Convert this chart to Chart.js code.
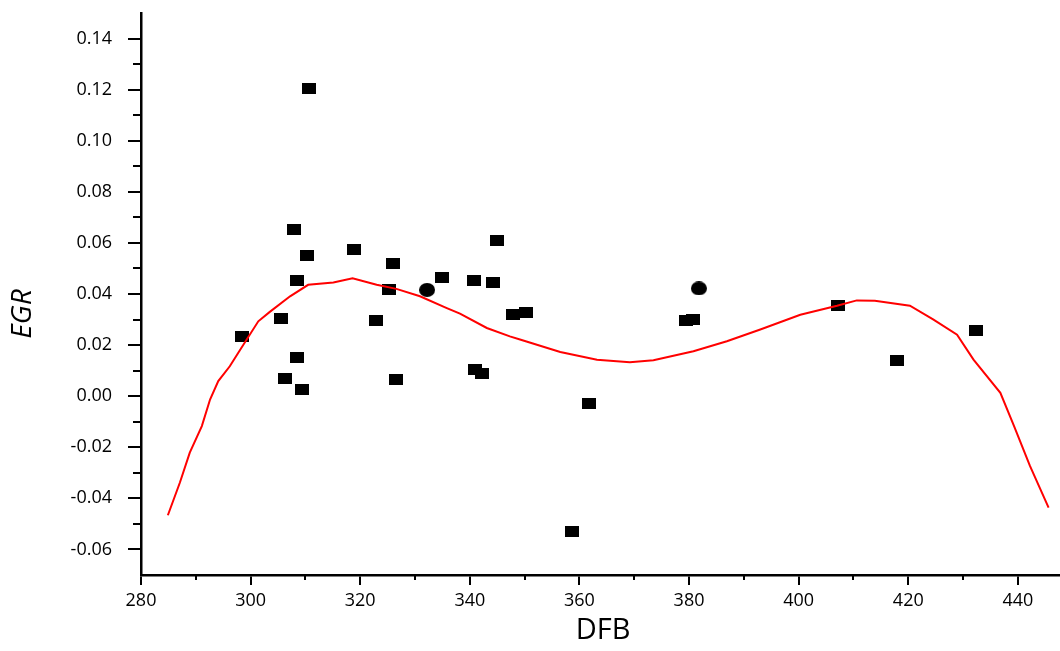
<!DOCTYPE html>
<html>
<head>
<meta charset="utf-8">
<script src="https://cdn.jsdelivr.net/npm/chart.js@4.4.1/dist/chart.umd.min.js"></script>
<style>
  html, body { margin: 0; padding: 0; background: #fff; }
  canvas { display: block; }
</style>
</head>
<body>
<canvas id="chart" width="1060" height="651"></canvas>
<script>
// measured points
const dfb = [310.7, 308.0, 310.2, 308.5, 305.6, 298.5, 308.5, 306.2, 309.4, 318.8,
  326.0, 345.0, 334.9, 340.7, 344.2, 325.2, 332.2, 347.9, 350.2, 322.9,
  326.5, 341.0, 342.2, 361.8, 358.7, 381.8, 379.5, 380.8, 407.1, 418.0, 432.3];
const egr = [0.1203, 0.0651, 0.0550, 0.0453, 0.0303, 0.0235, 0.0151, 0.0069, 0.0028, 0.0576,
  0.0518, 0.0611, 0.0464, 0.0454, 0.0445, 0.0417, 0.0416, 0.0319, 0.0329, 0.0298,
  0.0065, 0.0106, 0.0089, -0.0029, -0.0529, 0.0422, 0.0295, 0.0300, 0.0356, 0.0140, 0.0257];

// fitted curve
const fitDfb = [284.9, 287.1, 288.9, 291.1, 292.6, 294.1, 296.2, 298.1, 301.4, 303.5,
  307.2, 310.5, 315.1, 318.6, 323.0, 326.6, 330.9, 335.8, 338.2, 343.1,
  347.3, 349.3, 356.5, 363.2, 369.2, 373.5, 380.8, 386.9, 393.0, 400.3,
  407.0, 410.6, 413.9, 420.3, 424.6, 428.9, 431.9, 436.8, 439.3, 442.2, 445.6];
const fitEgr = [-0.0466, -0.0338, -0.0221, -0.0117, -0.0013, 0.0059, 0.0117, 0.0182, 0.0293, 0.0330,
  0.0391, 0.0436, 0.0445, 0.0462, 0.0436, 0.0420, 0.0391, 0.0345, 0.0323, 0.0267,
  0.0234, 0.0221, 0.0173, 0.0143, 0.0133, 0.0141, 0.0176, 0.0215, 0.0261, 0.0319,
  0.0354, 0.0375, 0.0374, 0.0354, 0.0300, 0.0241, 0.0143, 0.0013, -0.0117, -0.0273, -0.0436];

const xTicks = [280, 300, 320, 340, 360, 380, 400, 420, 440];
const yTicks = [-0.06, -0.04, -0.02, 0.00, 0.02, 0.04, 0.06, 0.08, 0.10, 0.12, 0.14];
const xMinor = [290, 310, 330, 350, 370, 390, 410, 430];
const yMinor = [-0.05, -0.03, -0.01, 0.01, 0.03, 0.05, 0.07, 0.09, 0.11, 0.13];

const roundIdx = [16, 25];

function makeMarker(w, h, round) {
  const c = document.createElement("canvas");
  c.width = w;
  c.height = h;
  const g = c.getContext("2d");
  g.fillStyle = "#000";
  if (round) {
    g.beginPath();
    g.ellipse(w / 2, h / 2, w / 2, h / 2, 0, 0, Math.PI * 2);
    g.fill();
  } else {
    g.fillRect(0, 0, w, h);
  }
  return c;
}
const rectMark = makeMarker(14, 11, false);
const roundMark = makeMarker(16, 14, true);

const FONT = '"Open Sans", "DejaVu Sans", sans-serif';

// minor ticks + axis titles
const decor = {
  id: "decor",
  afterDraw(chart) {
    const { ctx, chartArea: a, scales } = chart;
    ctx.save();
    ctx.strokeStyle = "#000";
    ctx.lineWidth = 2;
    ctx.beginPath();
    xMinor.forEach((v) => {
      const px = Math.round(scales.x.getPixelForValue(v));
      ctx.moveTo(px, a.bottom);
      ctx.lineTo(px, a.bottom + 5);
    });
    yMinor.forEach((v) => {
      const py = Math.round(scales.y.getPixelForValue(v));
      ctx.moveTo(a.left - 8, py);
      ctx.lineTo(a.left, py);
    });
    ctx.stroke();

    ctx.fillStyle = "#000";
    ctx.textAlign = "center";
    ctx.textBaseline = "middle";
    ctx.font = "29px " + FONT;
    ctx.fillText("DFB", 603, 631);
    ctx.translate(23, 314);
    ctx.rotate(-Math.PI / 2);
    ctx.font = "italic 28px " + FONT;
    ctx.fillText("EGR", 0, 0);
    ctx.restore();
  },
};

new Chart(document.getElementById("chart"), {
  type: "scatter",
  data: {
    datasets: [
      {
        label: "fit",
        data: fitDfb.map((x, i) => ({ x, y: fitEgr[i] })),
        showLine: true,
        borderColor: "#ff0000",
        borderWidth: 2,
        pointRadius: 0,
        tension: 0,
        fill: false,
      },
      {
        label: "EGR",
        data: dfb.map((x, i) => ({ x, y: egr[i] })),
        pointStyle: dfb.map((_, i) => (roundIdx.includes(i) ? roundMark : rectMark)),
        pointRadius: 7,
        showLine: false,
      },
    ],
  },
  options: {
    responsive: false,
    animation: false,
    events: [],
    layout: { autoPadding: false, padding: { top: 13, right: 1, left: 0, bottom: 0 } },
    plugins: { legend: { display: false }, tooltip: { enabled: false } },
    scales: {
      x: {
        type: "linear",
        min: 280,
        max: 447.5,
        afterFit: (s) => {
          s.height = 76;
          s.paddingLeft = 0;
          s.paddingRight = 0;
        },
        afterBuildTicks: (s) => { s.ticks = xTicks.map((v) => ({ value: v })); },
        border: { display: true, color: "#000", width: 2.5 },
        grid: { drawOnChartArea: false, drawTicks: true, tickLength: 10, color: "#000", lineWidth: 2 },
        ticks: {
          padding: 5,
          color: "#000",
          font: { family: FONT, size: 18 },
          maxRotation: 0,
          callback: (v) => String(v),
        },
      },
      y: {
        type: "linear",
        min: -0.07,
        max: 0.15,
        afterFit: (s) => {
          s.width = 141;
          s.paddingTop = 0;
          s.paddingBottom = 0;
        },
        afterBuildTicks: (s) => { s.ticks = yTicks.map((v) => ({ value: v })); },
        border: { display: true, color: "#000", width: 2.5 },
        grid: { drawOnChartArea: false, drawTicks: true, tickLength: 13, color: "#000", lineWidth: 2 },
        ticks: {
          padding: 16,
          color: "#000",
          font: { family: FONT, size: 18 },
          callback: (v) => Number(v).toFixed(2),
        },
      },
    },
  },
  plugins: [decor],
});
</script>
</body>
</html>
